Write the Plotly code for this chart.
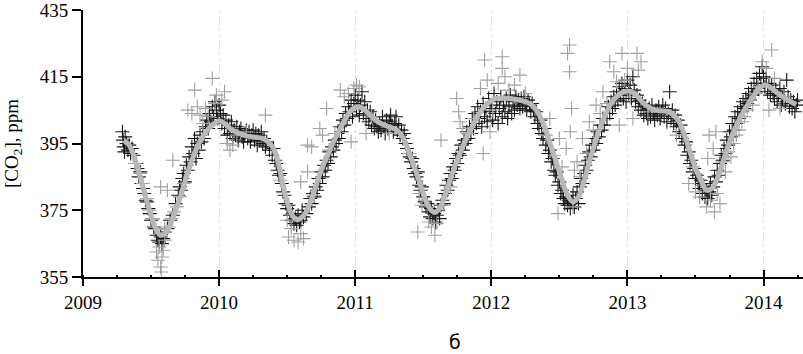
import plotly.graph_objects as go

# ---------------- data ----------------
curve_pts = [
    (2009.30, 396.0), (2009.34, 394.5), (2009.38, 390.5), (2009.42, 385.0), (2009.46, 379.0),
    (2009.50, 373.5), (2009.54, 369.0), (2009.57, 367.5), (2009.60, 368.0), (2009.64, 370.5),
    (2009.68, 375.0), (2009.72, 379.5), (2009.76, 385.0), (2009.80, 390.0), (2009.84, 394.0),
    (2009.88, 397.0), (2009.92, 399.3), (2009.96, 400.8), (2010.00, 401.8), (2010.04, 401.0),
    (2010.08, 399.5), (2010.12, 398.5), (2010.16, 397.8), (2010.20, 397.3), (2010.24, 397.0),
    (2010.28, 396.8), (2010.32, 396.5), (2010.36, 395.5), (2010.40, 393.5), (2010.43, 390.0),
    (2010.46, 384.5), (2010.49, 379.0), (2010.52, 375.0), (2010.55, 372.8), (2010.58, 372.2),
    (2010.61, 373.0), (2010.64, 374.5), (2010.68, 378.5), (2010.72, 383.5), (2010.76, 388.0),
    (2010.80, 391.8), (2010.84, 395.5), (2010.88, 398.7), (2010.92, 401.8), (2010.96, 404.5),
    (2011.00, 405.8), (2011.03, 406.0), (2011.07, 405.0), (2011.11, 403.5), (2011.15, 402.0),
    (2011.20, 400.8), (2011.25, 400.0), (2011.30, 399.2), (2011.34, 397.5), (2011.38, 394.0),
    (2011.42, 389.5), (2011.46, 385.0), (2011.50, 380.0), (2011.54, 376.0), (2011.58, 374.4),
    (2011.62, 375.5), (2011.66, 379.5), (2011.70, 384.5), (2011.74, 389.0), (2011.78, 393.0),
    (2011.82, 397.0), (2011.86, 400.0), (2011.90, 403.3), (2011.94, 405.6), (2011.98, 407.3),
    (2012.03, 408.5), (2012.08, 408.6), (2012.13, 408.5), (2012.18, 408.2), (2012.23, 407.8),
    (2012.28, 407.0), (2012.32, 405.5), (2012.36, 403.0), (2012.40, 399.0), (2012.44, 394.0),
    (2012.48, 389.0), (2012.52, 384.0), (2012.56, 379.5), (2012.60, 377.5), (2012.64, 379.0),
    (2012.68, 383.5), (2012.72, 389.5), (2012.76, 395.0), (2012.80, 399.8), (2012.84, 403.8),
    (2012.88, 407.0), (2012.92, 409.0), (2012.96, 410.2), (2013.00, 410.7), (2013.04, 410.3),
    (2013.08, 408.8), (2013.12, 407.0), (2013.16, 405.8), (2013.20, 405.0), (2013.25, 404.8),
    (2013.30, 404.6), (2013.34, 403.5), (2013.38, 401.5), (2013.42, 397.5), (2013.46, 392.5),
    (2013.50, 387.5), (2013.54, 384.0), (2013.58, 381.0), (2013.62, 381.5), (2013.65, 383.5),
    (2013.69, 388.0), (2013.73, 393.0), (2013.77, 397.5), (2013.81, 401.2), (2013.85, 404.3),
    (2013.89, 407.0), (2013.93, 409.5), (2013.97, 411.5), (2014.01, 412.6), (2014.05, 411.8),
    (2014.09, 410.5), (2014.13, 409.3), (2014.18, 408.0), (2014.24, 406.7),
]

black_2009 = [
    (2009.290, 398.5), (2009.295, 396.0), (2009.300, 394.0), (2009.305, 392.5), (2009.310, 397.0),
    (2009.320, 395.0), (2009.330, 393.0), (2009.340, 394.5), (2009.350, 392.0), (2009.360, 393.5),
    (2009.370, 391.5), (2009.390, 389.0), (2009.400, 387.5), (2009.410, 385.0), (2009.420, 386.5),
    (2009.430, 383.0), (2009.440, 381.5), (2009.450, 380.0), (2009.460, 378.0), (2009.470, 377.5),
    (2009.480, 375.5), (2009.490, 374.0), (2009.500, 372.0), (2009.510, 372.5), (2009.520, 370.0),
    (2009.530, 369.5), (2009.540, 367.5), (2009.550, 366.0), (2009.560, 365.5), (2009.570, 367.0),
    (2009.580, 365.0), (2009.590, 366.5), (2009.600, 368.5), (2009.620, 369.5), (2009.640, 372.0),
    (2009.660, 373.5), (2009.680, 377.0), (2009.700, 379.5), (2009.710, 382.0), (2009.720, 381.0),
    (2009.730, 384.5), (2009.740, 386.0), (2009.750, 383.5), (2009.760, 388.5), (2009.770, 387.0),
    (2009.780, 391.0), (2009.790, 389.5), (2009.800, 394.0), (2009.810, 392.0), (2009.820, 396.5),
    (2009.830, 390.5), (2009.840, 395.0), (2009.850, 393.0), (2009.860, 397.5), (2009.870, 395.5),
    (2009.880, 398.5), (2009.890, 396.5), (2009.900, 400.0), (2009.910, 402.0), (2009.920, 399.5),
    (2009.930, 404.0), (2009.940, 401.5), (2009.950, 406.0), (2009.960, 403.0), (2009.970, 407.5),
    (2009.980, 405.0), (2009.990, 402.5),
]

black_2010 = [
    (2010.000, 406.5), (2010.010, 404.0), (2010.020, 401.0), (2010.030, 403.5), (2010.040, 399.5),
    (2010.050, 402.0), (2010.060, 397.5), (2010.070, 400.5), (2010.080, 398.0), (2010.090, 401.5),
    (2010.100, 396.5), (2010.110, 399.0), (2010.120, 397.5), (2010.130, 400.0), (2010.140, 396.0),
    (2010.150, 398.5), (2010.160, 399.5), (2010.170, 397.0), (2010.180, 395.5), (2010.190, 398.0),
    (2010.200, 399.0), (2010.210, 396.5), (2010.220, 398.5), (2010.230, 395.5), (2010.240, 397.5),
    (2010.250, 399.0), (2010.260, 396.0), (2010.270, 398.0), (2010.280, 394.5), (2010.290, 397.5),
    (2010.300, 396.0), (2010.310, 398.5), (2010.320, 395.0), (2010.330, 396.5), (2010.340, 394.0),
    (2010.350, 395.5), (2010.370, 393.0), (2010.390, 391.5), (2010.400, 393.5), (2010.410, 390.0),
    (2010.420, 389.0), (2010.430, 387.0), (2010.440, 385.5), (2010.450, 386.0), (2010.460, 383.0),
    (2010.470, 380.5), (2010.480, 379.5), (2010.490, 377.0), (2010.500, 375.5), (2010.510, 376.5),
    (2010.520, 373.5), (2010.530, 372.0), (2010.540, 374.0), (2010.550, 371.0), (2010.560, 372.5),
    (2010.570, 370.5), (2010.580, 373.5), (2010.590, 371.5), (2010.600, 372.0), (2010.610, 375.0),
    (2010.620, 373.0), (2010.640, 374.0), (2010.660, 376.0), (2010.670, 378.5), (2010.680, 377.0),
    (2010.690, 380.0), (2010.700, 379.0), (2010.710, 382.0), (2010.720, 381.0), (2010.730, 384.5),
    (2010.740, 383.0), (2010.750, 386.5), (2010.760, 385.0), (2010.770, 388.5), (2010.780, 387.0),
    (2010.790, 390.0), (2010.800, 389.0), (2010.810, 392.5), (2010.820, 391.0), (2010.830, 394.0),
    (2010.840, 393.0), (2010.850, 396.0), (2010.860, 395.0), (2010.870, 398.0), (2010.880, 396.5),
    (2010.890, 400.0), (2010.900, 398.5), (2010.910, 402.0), (2010.920, 400.5), (2010.930, 404.0),
    (2010.940, 402.5), (2010.950, 406.0), (2010.960, 404.5), (2010.970, 408.0), (2010.980, 403.0),
    (2010.990, 407.0),
]

black_2011 = [
    (2011.000, 409.5), (2011.010, 405.5), (2011.020, 408.0), (2011.030, 403.5), (2011.040, 406.5),
    (2011.050, 410.5), (2011.060, 404.0), (2011.070, 407.5), (2011.080, 402.5), (2011.090, 405.0),
    (2011.100, 401.5), (2011.110, 404.5), (2011.120, 400.5), (2011.130, 403.0), (2011.140, 399.5),
    (2011.150, 402.0), (2011.160, 400.0), (2011.170, 398.5), (2011.180, 401.0), (2011.190, 399.0),
    (2011.200, 403.0), (2011.210, 400.0), (2011.220, 398.0), (2011.230, 402.0), (2011.240, 399.5),
    (2011.250, 401.5), (2011.260, 403.5), (2011.270, 400.5), (2011.280, 398.5), (2011.290, 401.0),
    (2011.300, 403.0), (2011.310, 399.0), (2011.320, 400.5), (2011.330, 397.5), (2011.340, 399.0),
    (2011.350, 396.5), (2011.360, 398.0), (2011.370, 395.0), (2011.380, 393.5), (2011.390, 392.0),
    (2011.400, 391.0), (2011.410, 389.5), (2011.420, 390.5), (2011.430, 387.5), (2011.440, 386.0),
    (2011.450, 385.0), (2011.460, 386.5), (2011.470, 382.5), (2011.480, 381.0), (2011.490, 382.0),
    (2011.500, 379.0), (2011.510, 377.5), (2011.520, 376.0), (2011.530, 377.0), (2011.540, 374.5),
    (2011.550, 373.0), (2011.560, 375.5), (2011.570, 372.5), (2011.580, 374.0), (2011.590, 371.5),
    (2011.600, 373.5), (2011.610, 375.0), (2011.620, 372.5), (2011.630, 376.5), (2011.640, 378.0),
    (2011.650, 377.0), (2011.660, 380.0), (2011.670, 382.5), (2011.680, 381.0), (2011.690, 384.0),
    (2011.700, 386.0), (2011.710, 384.5), (2011.720, 388.0), (2011.730, 387.0), (2011.740, 390.5),
    (2011.750, 389.0), (2011.760, 392.0), (2011.770, 391.5), (2011.780, 394.5), (2011.790, 393.0),
    (2011.800, 396.0), (2011.810, 395.0), (2011.820, 398.5), (2011.830, 396.5), (2011.840, 400.0),
    (2011.850, 398.0), (2011.860, 402.5), (2011.870, 399.5), (2011.880, 404.0), (2011.890, 401.0),
    (2011.900, 406.0), (2011.910, 402.5), (2011.920, 404.5), (2011.930, 400.0), (2011.940, 407.0),
    (2011.950, 403.0), (2011.960, 405.5), (2011.970, 401.5), (2011.980, 408.5), (2011.990, 404.5),
]

black_2012 = [
    (2012.000, 406.5), (2012.010, 402.0), (2012.020, 410.0), (2012.030, 404.0), (2012.040, 407.5),
    (2012.050, 401.0), (2012.060, 405.5), (2012.070, 409.0), (2012.080, 403.0), (2012.090, 406.5),
    (2012.100, 404.5), (2012.110, 408.5), (2012.120, 402.5), (2012.130, 406.0), (2012.140, 409.5),
    (2012.150, 404.0), (2012.160, 407.5), (2012.170, 405.0), (2012.180, 409.0), (2012.190, 406.5),
    (2012.200, 408.0), (2012.210, 405.5), (2012.220, 408.5), (2012.230, 406.0), (2012.240, 409.0),
    (2012.250, 407.0), (2012.260, 405.0), (2012.270, 408.0), (2012.280, 406.5), (2012.290, 404.5),
    (2012.300, 407.0), (2012.310, 405.0), (2012.320, 403.0), (2012.330, 404.5), (2012.340, 401.0),
    (2012.350, 399.5), (2012.360, 402.0), (2012.370, 398.0), (2012.380, 396.5), (2012.390, 399.5),
    (2012.400, 394.5), (2012.410, 396.0), (2012.420, 392.0), (2012.430, 393.0), (2012.440, 389.5),
    (2012.450, 390.5), (2012.460, 387.0), (2012.470, 385.5), (2012.480, 386.5), (2012.490, 382.5),
    (2012.500, 383.5), (2012.510, 380.0), (2012.520, 381.0), (2012.530, 378.5), (2012.540, 377.0),
    (2012.550, 379.0), (2012.560, 376.5), (2012.570, 378.0), (2012.580, 375.5), (2012.590, 377.5),
    (2012.600, 379.5), (2012.610, 376.0), (2012.620, 378.5), (2012.630, 380.5), (2012.640, 377.0),
    (2012.650, 382.0), (2012.660, 384.5), (2012.670, 383.0), (2012.680, 386.0), (2012.690, 388.5),
    (2012.700, 387.0), (2012.710, 390.0), (2012.720, 392.5), (2012.730, 391.0), (2012.740, 394.5),
    (2012.750, 393.0), (2012.760, 396.5), (2012.770, 395.0), (2012.780, 398.5), (2012.790, 397.0),
    (2012.800, 400.5), (2012.810, 399.0), (2012.820, 402.5), (2012.830, 400.5), (2012.840, 404.0),
    (2012.850, 402.5), (2012.860, 406.0), (2012.870, 404.0), (2012.880, 407.5), (2012.890, 405.5),
    (2012.900, 409.0), (2012.910, 406.5), (2012.920, 410.5), (2012.930, 408.0), (2012.940, 412.0),
    (2012.950, 409.5), (2012.960, 413.0), (2012.970, 408.5), (2012.980, 411.5), (2012.990, 407.5),
]

black_2013 = [
    (2013.000, 414.0), (2013.010, 410.0), (2013.020, 412.5), (2013.030, 408.5), (2013.040, 415.0),
    (2013.050, 411.0), (2013.060, 407.5), (2013.070, 409.5), (2013.080, 406.0), (2013.090, 408.0),
    (2013.100, 405.0), (2013.110, 407.0), (2013.120, 403.5), (2013.130, 406.0), (2013.140, 404.0),
    (2013.150, 402.5), (2013.160, 405.5), (2013.170, 403.0), (2013.180, 406.5), (2013.190, 404.0),
    (2013.200, 402.0), (2013.210, 405.0), (2013.220, 403.5), (2013.230, 406.0), (2013.240, 402.5),
    (2013.250, 404.5), (2013.260, 406.5), (2013.270, 403.0), (2013.280, 405.5), (2013.290, 401.5),
    (2013.300, 404.0), (2013.310, 410.5), (2013.320, 402.5), (2013.330, 405.0), (2013.340, 401.0),
    (2013.350, 403.5), (2013.360, 400.0), (2013.370, 402.0), (2013.380, 398.5), (2013.390, 400.5),
    (2013.400, 396.5), (2013.410, 398.0), (2013.420, 394.5), (2013.430, 395.5), (2013.440, 391.5),
    (2013.450, 392.5), (2013.460, 389.0), (2013.470, 390.0), (2013.480, 386.5), (2013.490, 387.5),
    (2013.500, 384.5), (2013.510, 385.5), (2013.520, 383.0), (2013.530, 381.5), (2013.540, 384.0),
    (2013.550, 380.0), (2013.560, 382.5), (2013.570, 379.0), (2013.580, 381.0), (2013.590, 378.5),
    (2013.600, 380.5), (2013.610, 383.0), (2013.620, 379.5), (2013.630, 382.0), (2013.640, 385.0),
    (2013.650, 383.5), (2013.660, 387.0), (2013.670, 385.5), (2013.680, 389.0), (2013.690, 391.5),
    (2013.700, 390.0), (2013.710, 393.5), (2013.720, 392.0), (2013.730, 396.0), (2013.740, 394.5),
    (2013.750, 398.5), (2013.760, 397.0), (2013.770, 401.0), (2013.780, 399.0), (2013.790, 403.0),
    (2013.800, 401.0), (2013.810, 404.5), (2013.820, 402.5), (2013.830, 406.0), (2013.840, 404.5),
    (2013.850, 407.5), (2013.860, 405.5), (2013.870, 408.5), (2013.880, 407.0), (2013.890, 410.0),
    (2013.900, 408.0), (2013.910, 411.5), (2013.920, 409.5), (2013.930, 413.0), (2013.940, 410.5),
    (2013.950, 414.5), (2013.960, 411.5), (2013.970, 416.0), (2013.980, 413.0), (2013.990, 418.0),
]

black_2014 = [
    (2014.000, 415.0), (2014.010, 412.0), (2014.020, 414.5), (2014.030, 410.5), (2014.040, 413.0),
    (2014.050, 409.5), (2014.060, 412.5), (2014.070, 410.0), (2014.080, 408.5), (2014.090, 411.0),
    (2014.100, 407.5), (2014.110, 409.5), (2014.120, 411.5), (2014.130, 406.5), (2014.140, 408.5),
    (2014.150, 410.5), (2014.160, 407.0), (2014.170, 414.0), (2014.180, 409.0), (2014.190, 406.0),
    (2014.200, 408.0), (2014.210, 405.5), (2014.220, 407.5), (2014.230, 404.5), (2014.240, 406.5),
    (2014.250, 408.0),
]

gray_2009_2010 = [
    (2009.380, 389.0), (2009.420, 386.0), (2009.440, 383.0), (2009.470, 378.5), (2009.490, 375.0),
    (2009.510, 372.5), (2009.530, 370.0), (2009.540, 362.5), (2009.550, 360.0), (2009.560, 364.0),
    (2009.570, 358.0), (2009.575, 356.5), (2009.580, 361.0), (2009.590, 363.0), (2009.600, 366.0),
    (2009.570, 382.0), (2009.620, 381.0), (2009.600, 369.5), (2009.630, 370.0), (2009.650, 372.5),
    (2009.660, 390.0), (2009.670, 374.5), (2009.690, 376.0), (2009.710, 379.0), (2009.740, 383.0),
    (2009.770, 405.0), (2009.800, 404.0), (2009.820, 411.0), (2009.840, 406.0), (2009.860, 403.5),
    (2009.880, 401.0), (2009.900, 405.5), (2009.920, 403.0), (2009.950, 414.5), (2009.970, 407.0),
    (2009.980, 409.5), (2010.020, 408.0), (2010.040, 410.5), (2010.060, 395.0), (2010.080, 393.0),
    (2010.100, 394.5), (2010.130, 397.5), (2010.200, 398.5), (2010.340, 403.5), (2010.450, 384.0),
    (2010.500, 372.0), (2010.510, 367.0), (2010.530, 369.5), (2010.550, 366.0), (2010.580, 365.5),
    (2010.600, 368.0), (2010.620, 366.5), (2010.600, 383.5), (2010.650, 386.5), (2010.650, 394.5),
    (2010.680, 394.0), (2010.700, 379.5), (2010.740, 399.5), (2010.760, 397.5), (2010.790, 405.5),
    (2010.810, 393.0), (2010.850, 398.0), (2010.890, 411.0), (2010.920, 409.0), (2010.950, 410.0),
    (2010.970, 395.5), (2010.990, 411.5),
]

gray_2011_2012 = [
    (2011.010, 412.5), (2011.030, 412.0), (2011.080, 398.0), (2011.120, 403.0), (2011.250, 398.0),
    (2011.400, 392.0), (2011.460, 368.5), (2011.470, 380.0), (2011.490, 376.5), (2011.510, 378.0),
    (2011.540, 371.5), (2011.560, 370.0), (2011.585, 367.5), (2011.600, 371.0), (2011.630, 396.0),
    (2011.650, 376.5), (2011.700, 382.0), (2011.745, 408.5), (2011.760, 404.5), (2011.770, 401.5),
    (2011.790, 399.5), (2011.830, 398.0), (2011.870, 402.5), (2011.920, 411.5), (2011.940, 392.0),
    (2011.950, 420.0), (2011.970, 414.0), (2011.990, 398.5), (2012.010, 405.0), (2012.050, 413.0),
    (2012.080, 421.0), (2012.080, 417.5), (2012.100, 415.0), (2012.130, 411.0), (2012.170, 412.5),
    (2012.210, 415.5), (2012.250, 410.0), (2012.400, 397.5), (2012.430, 402.5), (2012.460, 391.5),
    (2012.490, 374.0), (2012.500, 396.5), (2012.520, 388.0), (2012.550, 393.5), (2012.560, 422.0),
    (2012.575, 424.5), (2012.575, 416.5), (2012.580, 398.5), (2012.590, 405.5), (2012.600, 376.0),
    (2012.610, 387.0), (2012.630, 389.5), (2012.650, 385.0), (2012.670, 396.5), (2012.700, 392.0),
    (2012.720, 401.5), (2012.750, 399.0), (2012.770, 406.5), (2012.800, 404.0), (2012.820, 410.5),
    (2012.850, 407.0), (2012.870, 419.5), (2012.900, 416.5), (2012.920, 413.5), (2012.940, 400.5),
    (2012.960, 422.0),
]

gray_2013_2014 = [
    (2012.980, 414.0), (2013.000, 417.5), (2013.020, 409.0), (2013.040, 402.5), (2013.070, 422.0),
    (2013.080, 417.0), (2013.100, 419.5), (2013.150, 404.5), (2013.360, 397.5), (2013.450, 383.0),
    (2013.480, 388.0), (2013.500, 380.5), (2013.530, 379.0), (2013.560, 382.5), (2013.580, 376.0),
    (2013.590, 390.5), (2013.600, 397.5), (2013.610, 378.0), (2013.630, 393.5), (2013.640, 374.5),
    (2013.650, 398.5), (2013.660, 380.0), (2013.680, 377.0), (2013.700, 389.5), (2013.720, 386.5),
    (2013.740, 392.5), (2013.760, 391.0), (2013.780, 395.0), (2013.800, 397.5), (2013.820, 399.0),
    (2013.840, 401.5), (2013.860, 403.0), (2013.880, 405.0), (2013.900, 408.0), (2013.920, 406.5),
    (2013.940, 410.0), (2013.960, 412.0), (2013.990, 419.5), (2014.020, 417.5), (2014.040, 405.0),
    (2014.060, 423.0), (2014.080, 414.5), (2014.120, 405.5), (2014.150, 409.0),
]

year_ticks = [2009, 2010, 2011, 2012, 2013, 2014]
ppm_ticks = [355, 375, 395, 415, 435]
y_title = "[CO<sub>2</sub>], ppm"
panel_label = "б"

# ---------------- figure ----------------
def unzip(pts):
    return [p[0] for p in pts], [p[1] for p in pts]

black_pts = black_2009 + black_2010 + black_2011 + black_2012 + black_2013 + black_2014
gray_pts = gray_2009_2010 + gray_2011_2012 + gray_2013_2014
bx, by = unzip(black_pts)
gx, gy = unzip(gray_pts)
cx, cy = unzip(curve_pts)

SERIF = "Liberation Serif, Times New Roman, serif"

fig = go.Figure()
fig.add_trace(go.Scatter(
    x=bx, y=by, mode="markers", showlegend=False, hoverinfo="skip",
    marker=dict(symbol="cross-thin", size=10, color="#151515",
                line=dict(color="#151515", width=1.1)),
))
fig.add_trace(go.Scatter(
    x=gx, y=gy, mode="markers", showlegend=False, hoverinfo="skip",
    marker=dict(symbol="cross-thin", size=10, color="#a0a0a0",
                line=dict(color="#a0a0a0", width=1.1)),
))
fig.add_trace(go.Scatter(
    x=cx, y=cy, mode="lines", showlegend=False, xaxis="x2", hoverinfo="skip",
    line=dict(color="#b8b8b8", width=5, shape="spline", smoothing=0.8),
))

x_range = [2009, 2014.29]
fig.update_layout(
    width=803, height=354,
    margin=dict(l=83, r=0, t=8, b=77),
    paper_bgcolor="white", plot_bgcolor="white",
    font=dict(family=SERIF, size=19, color="black"),
    xaxis=dict(
        range=x_range, tickmode="array", tickvals=year_ticks,
        ticktext=[str(v) for v in year_ticks],
        ticks="outside", ticklen=7, tickwidth=2, tickcolor="black",
        showline=True, linecolor="black", linewidth=2,
        showgrid=True, gridcolor="#dcdcdc", griddash="dot", gridwidth=1,
        zeroline=False, ticklabeloverflow="allow",
        minor=dict(dtick=0.25, tick0=2009, ticks="inside", ticklen=2,
                   tickwidth=2, tickcolor="black", showgrid=False),
        tickfont=dict(family=SERIF, size=19, color="black"),
    ),
    xaxis2=dict(
        range=x_range, overlaying="x", anchor="y", side="bottom",
        tickmode="array", tickvals=year_ticks, showticklabels=False,
        ticks="inside", ticklen=7, tickwidth=2, tickcolor="black",
        showline=False, showgrid=False, zeroline=False,
    ),
    yaxis=dict(
        range=[355, 435], tickmode="array", tickvals=ppm_ticks,
        ticktext=[str(v) for v in ppm_ticks],
        ticks="outside", ticklen=9, tickwidth=2, tickcolor="black",
        showline=True, linecolor="black", linewidth=2,
        showgrid=False, zeroline=False, ticklabeloverflow="allow",
        tickfont=dict(family=SERIF, size=19, color="black"),
        title=dict(text=y_title, standoff=16,
                   font=dict(family=SERIF, size=19, color="black")),
    ),
    annotations=[dict(
        text=panel_label, xref="paper", yref="paper",
        x=(455 - 83) / 720, y=-0.242, xanchor="center", yanchor="middle",
        showarrow=False, font=dict(family="DejaVu Sans, sans-serif", size=19, color="black"),
    )],
)

fig.write_html("out.html", config={"displayModeBar": False},
               post_script="document.body.style.margin='0';")
